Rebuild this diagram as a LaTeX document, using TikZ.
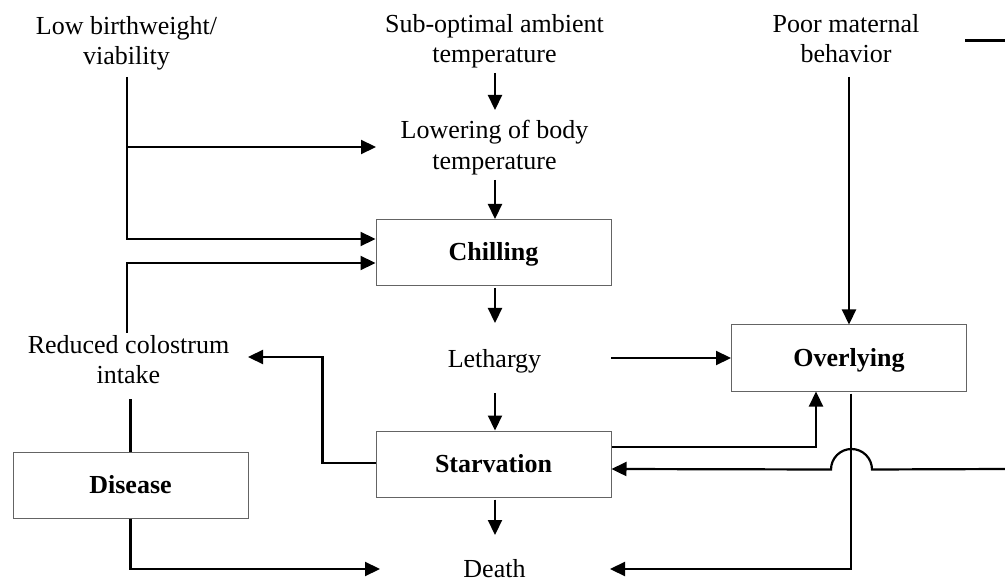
\documentclass[tikz,border=0pt]{standalone}
\usepackage{fontspec}
\setmainfont{Liberation Serif}
\usetikzlibrary{arrows.meta,calc}
\begin{document}
\begin{tikzpicture}[x=1pt,y=-1pt,
  txt/.style={font=\fontsize{26}{31}\selectfont, inner sep=0pt, anchor=base},
  box/.style={draw={rgb,255:red,100;green,100;blue,100}, line width=1pt,
    minimum width=235pt, minimum height=66pt, inner sep=0pt,
    text height=17pt, text depth=0pt, font=\fontsize{26}{31}\selectfont\bfseries},
  link/.style={line width=2.2pt},
  arr/.style={link, -{Triangle[length=15pt,width=14pt]}}]
\useasboundingbox (0,0) rectangle (1005,580);
% text nodes
\node[txt] (low1) at (126.5,35) {Low birthweight/};
\node[txt] (low2) at (126.5,65) {viability};
\node[txt] (sub1) at (494.5,33) {Sub-optimal ambient};
\node[txt] (sub2) at (494.5,63) {temperature};
\node[txt] (poor1) at (846,33) {Poor maternal};
\node[txt] (poor2) at (846,63) {behavior};
\node[txt] (lbt1) at (494.5,139) {Lowering of body};
\node[txt] (lbt2) at (494.5,170) {temperature};
\node[box] (chil) at (493.5,252.5) {Chilling};
\node[txt] (leth) at (494.5,367) {Lethargy};
\node[txt] (red1) at (128.5,354) {Reduced colostrum};
\node[txt] (red2) at (128.5,384) {intake};
\node[box] (ovl) at (849,358) {Overlying};
\node[box] (starv) at (493.5,464) {Starvation};
\node[box] (dis) at (130.5,485) {Disease};
\node[txt] (death) at (494.5,577) {Death};
% free ends
\coordinate (tr1) at (965,40.5);
\coordinate (tr2) at (1005,40.5);
\coordinate (rin) at (1005,469);
% central column
\draw[arr] ($(sub2.base)+(0.5,10)$) -- ($(lbt1.base)+(0.5,-29)$);
\draw[arr] ($(lbt2.base)+(0.5,10)$) -- ($(chil.north)+(1.5,0)$);
\draw[arr] ($(chil.south)+(1.5,2)$) -- ($(leth.base)+(0.5,-44)$);
\draw[arr] ($(leth.base)+(0.5,26)$) -- ($(starv.north)+(1.5,0)$);
\draw[arr] ($(starv.south)+(1.5,2)$) -- ($(death.base)+(0.5,-42)$);
% left side
\draw[arr] ($(low2.base)+(0.5,12)$) |- ($(chil.west)+(0,-13.5)$);
\draw[arr] ($(low2.base)+(0.5,82)$) -- ($(lbt1.base)+(-118.5,8)$);
\draw[arr] ($(red1.base)+(-1.5,-21)$) |- ($(chil.west)+(0,10.5)$);
\draw[link] (dis.north) -- ($(red2.base)+(2,15)$);
\draw[arr] (dis.south) |- ($(death.base)+(-114.5,-8)$);
\draw[arr] ($(starv.west)+(0,-1)$) -- ++(-53,0) |- ($(red1.base)+(119.5,3)$);
% right side
\draw[arr] ($(leth.base)+(116.5,-9)$) -- (ovl.west);
\draw[arr] ($(poor2.base)+(3,14)$) -- (ovl.north);
\draw[arr] ($(starv.east)+(0,-17)$) -| ($(ovl.south)+(-33,0)$);
\draw[arr] ($(ovl.south)+(2,2)$) |- ($(death.base)+(115.5,-8)$);
\draw[arr] (rin) -- ($(ovl.south)+(23,78)$) arc[start angle=0,end angle=-180,radius=20.5] -- ($(starv.east)+(0,5)$);
\draw[link] (tr1) -- (tr2);
\end{tikzpicture}
\end{document}
